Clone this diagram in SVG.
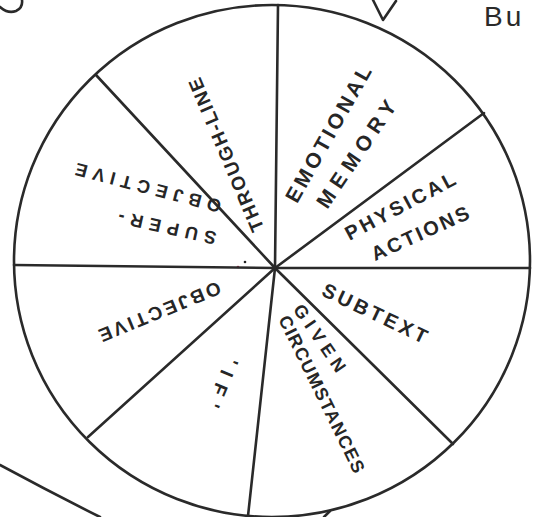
<svg xmlns="http://www.w3.org/2000/svg" width="540" height="517" viewBox="0 0 540 517">
<style>
.ln{fill:none;stroke:#2a2a2a;stroke-width:2.6;stroke-linecap:round;stroke-linejoin:round}
.lb{font-family:"Liberation Sans",Arial,sans-serif;font-weight:bold;fill:#262626;text-anchor:middle}
</style>
<rect width="540" height="517" fill="#ffffff"/>
<g id="fragments">
<path class="ln" d="M0,7 Q8,14 16,11 Q23,8 22,0"/>
<path class="ln" d="M373,0 L383,20 L396,1"/>
<text x="484" y="26" font-family="Liberation Sans,Arial,sans-serif" font-size="28" fill="#2a2a2a" letter-spacing="3">Bu</text>
<path class="ln" d="M0,465 Q50,492 100,517"/>
<path class="ln" d="M324,517 L330,511"/>
<circle cx="245" cy="262" r="1.3" fill="#222"/>
<circle cx="238" cy="267" r="1.3" fill="#b03050"/>
</g>
<g id="wheel">
<ellipse class="ln" cx="272" cy="261" rx="258" ry="256"/>
</g>
<g id="connectors">
<path class="ln" d="M275,268 L278,5"/>
<path class="ln" d="M275,268 L484,113"/>
<path class="ln" d="M275,268 L530,268"/>
<path class="ln" d="M275,268 L453,444"/>
<path class="ln" d="M275,268 L248,516"/>
<path class="ln" d="M275,268 L88,437"/>
<path class="ln" d="M275,268 L14,265"/>
<path class="ln" d="M275,268 L96,75"/>
</g>
<g id="through-line">
<text class="lb" font-size="19" transform="translate(226,155) rotate(-113)" dy="0.36em" textLength="165" lengthAdjust="spacing">THROUGH-LINE</text>
</g>
<g id="emotional-memory">
<text class="lb" font-size="21" transform="translate(328,134) rotate(-60.5)" dy="0.36em" textLength="153" lengthAdjust="spacing">EMOTIONAL</text>
<text class="lb" font-size="21" transform="translate(356,154) rotate(-56)" dy="0.36em" textLength="125" lengthAdjust="spacing">MEMORY</text>
</g>
<g id="physical-actions">
<text class="lb" font-size="20" transform="translate(400,206) rotate(-28)" dy="0.36em" textLength="122" lengthAdjust="spacing">PHYSICAL</text>
<text class="lb" font-size="20" transform="translate(420,233) rotate(-24.3)" dy="0.36em" textLength="105" lengthAdjust="spacing">ACTIONS</text>
</g>
<g id="subtext">
<text class="lb" font-size="20" transform="translate(375,313) rotate(25.5)" dy="0.36em" textLength="114" lengthAdjust="spacing">SUBTEXT</text>
</g>
<g id="given-circumstances">
<text class="lb" font-size="18" transform="translate(320,338) rotate(55.6)" dy="0.36em" textLength="78" lengthAdjust="spacing">GIVEN</text>
<text class="lb" font-size="18" transform="translate(322,394) rotate(63.8)" dy="0.36em" textLength="173" lengthAdjust="spacing">CIRCUMSTANCES</text>
</g>
<g id="if">
<text class="lb" font-size="19" transform="translate(223,383) rotate(113)" dy="0.36em" textLength="52" lengthAdjust="spacing">'IF'</text>
</g>
<g id="objective">
<text class="lb" font-size="19" transform="translate(160,312) rotate(157.8)" dy="0.36em" textLength="130" lengthAdjust="spacing">OBJECTIVE</text>
</g>
<g id="super-objective">
<text class="lb" font-size="18" transform="translate(167,228) rotate(-167.5)" dy="0.36em" textLength="100" lengthAdjust="spacing">SUPER-</text>
<text class="lb" font-size="18" transform="translate(148,188) rotate(-165.3)" dy="0.36em" textLength="150" lengthAdjust="spacing">OBJECTIVE</text>
</g>
</svg>
